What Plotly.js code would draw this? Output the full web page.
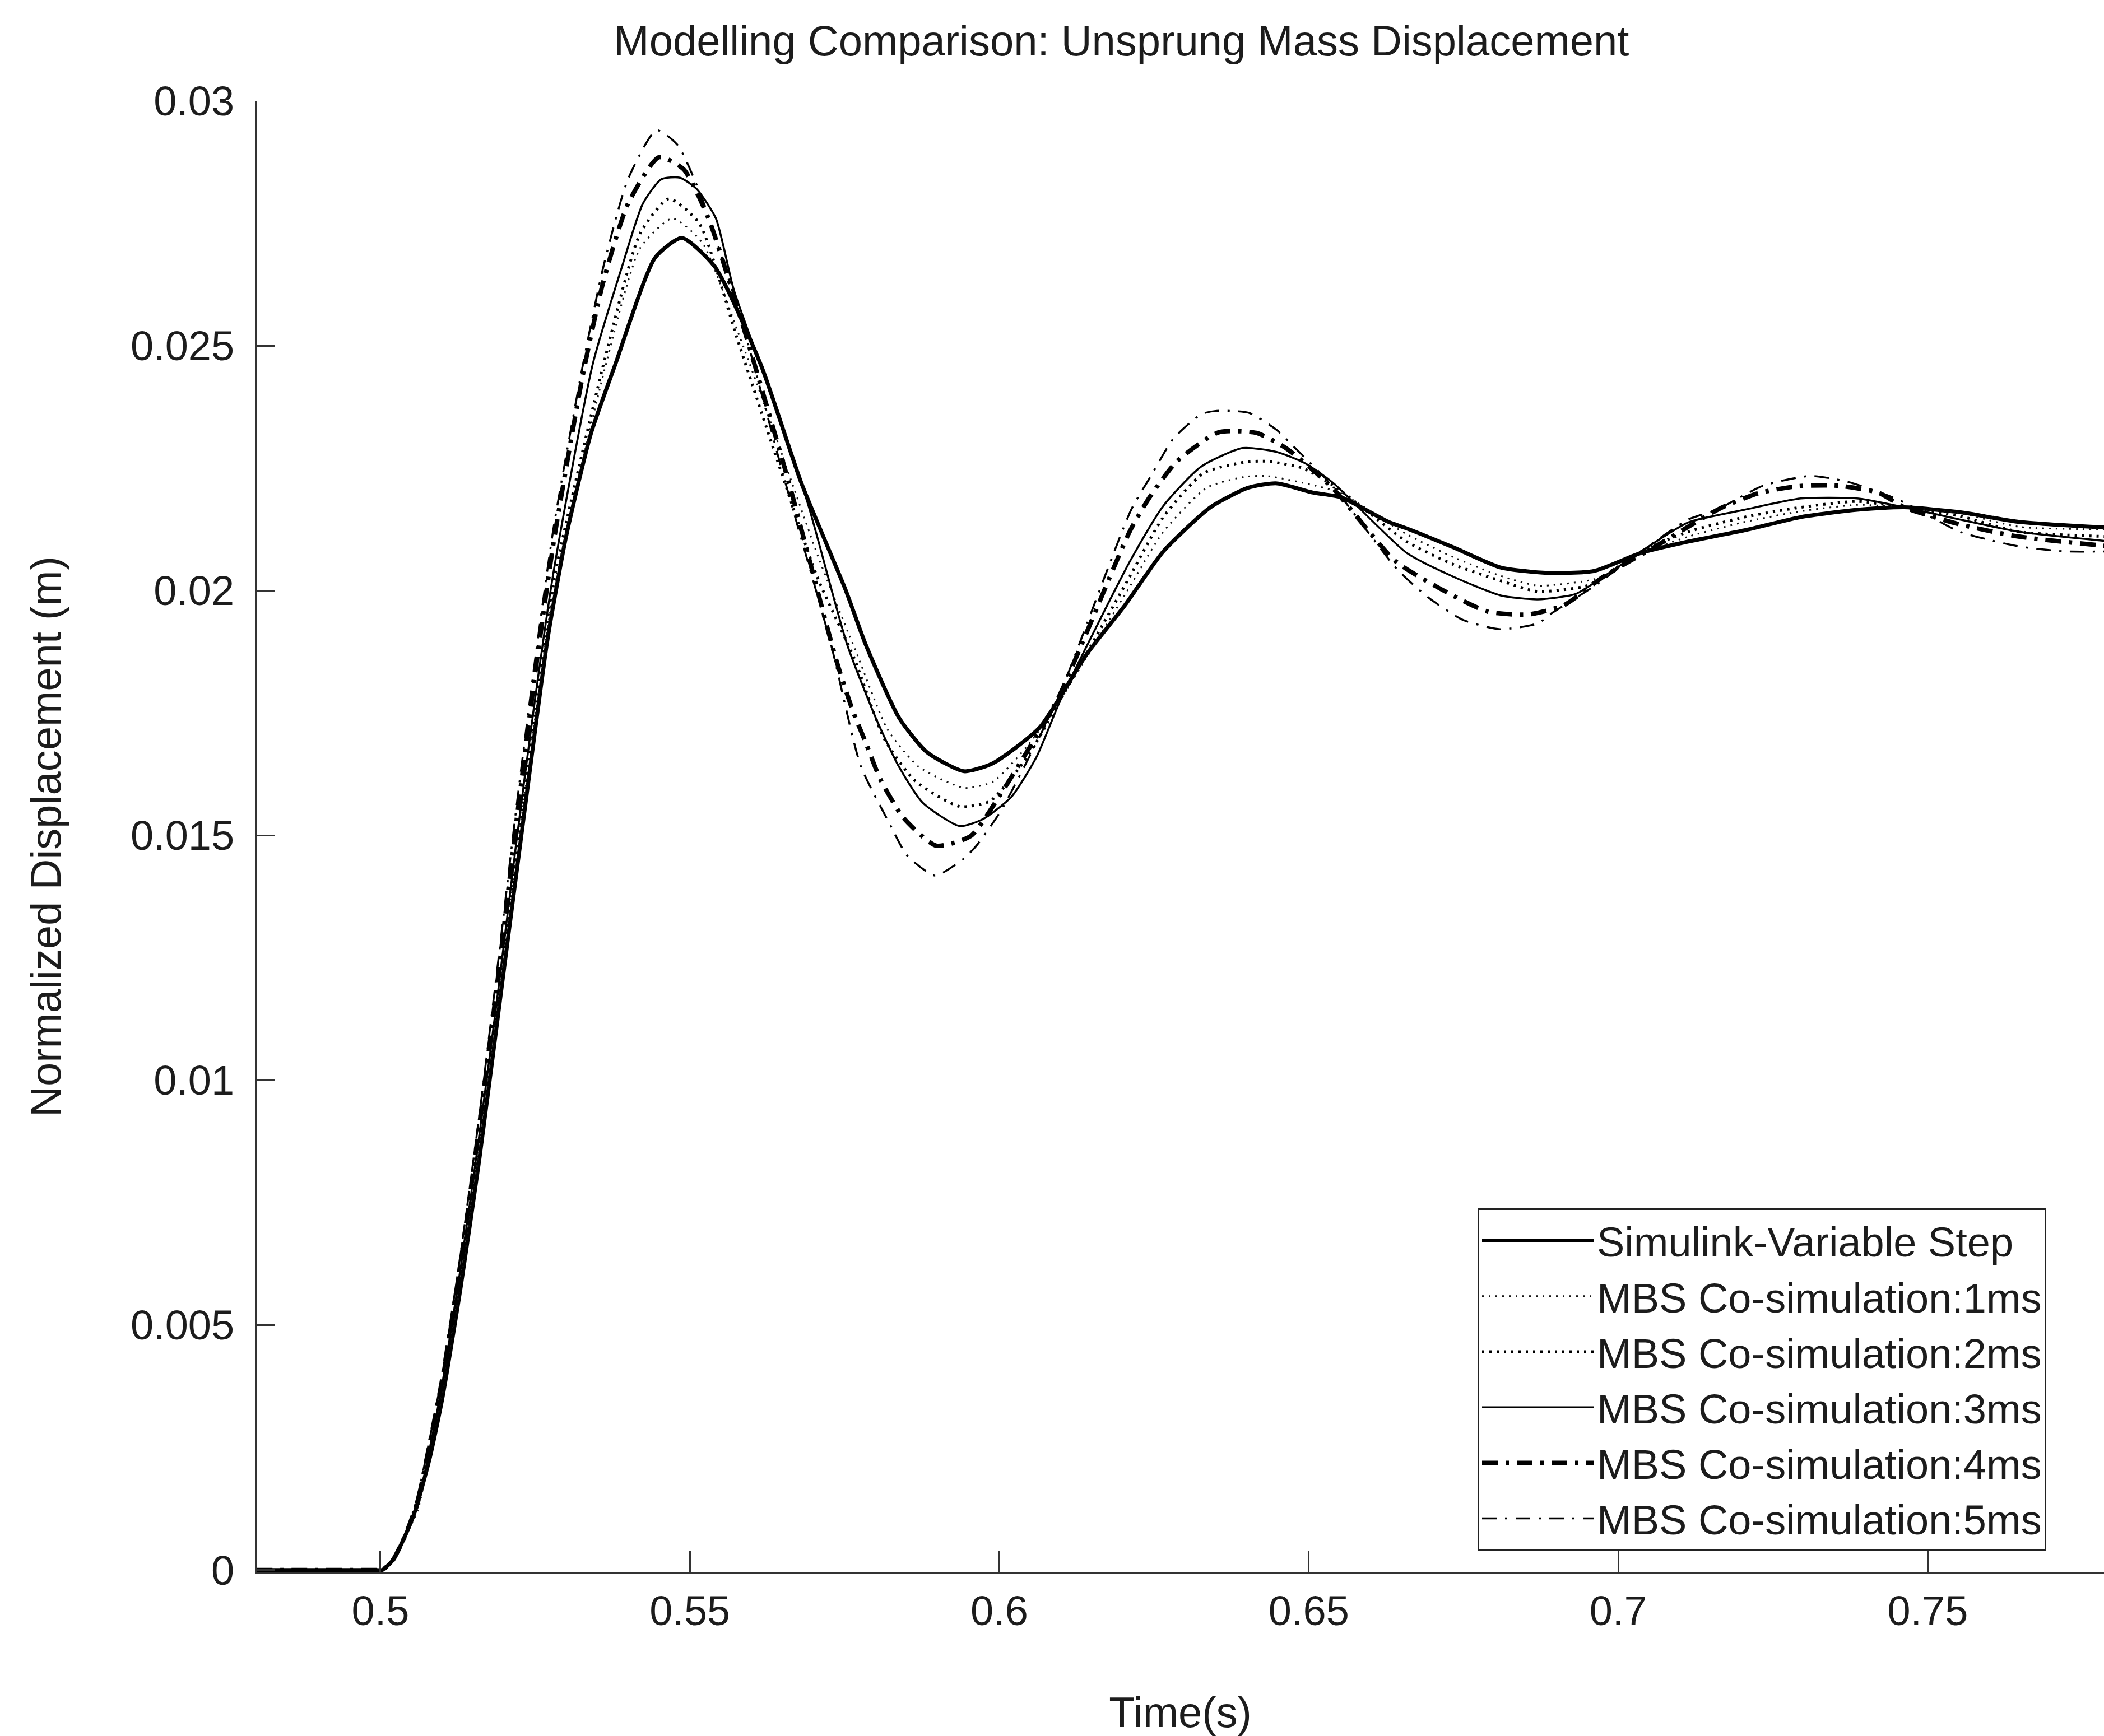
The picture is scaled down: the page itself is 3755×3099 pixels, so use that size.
<!DOCTYPE html>
<html>
<head>
<meta charset="utf-8">
<script src="https://cdn.plot.ly/plotly-3.0.1.min.js"></script>
<style>
  html, body { margin: 0; padding: 0; background: #ffffff; }
  #chart { width: 3755px; height: 3099px; }
</style>
</head>
<body>
<div id="chart"></div>
<script>
// ---------- Data ----------
const seriesNames = [
  "Simulink-Variable Step",
  "MBS Co-simulation:1ms",
  "MBS Co-simulation:2ms",
  "MBS Co-simulation:3ms",
  "MBS Co-simulation:4ms",
  "MBS Co-simulation:5ms"
];

const tSim = [0.480, 0.490, 0.499, 0.5003, 0.502, 0.504, 0.5056, 0.508, 0.510, 0.513, 0.516, 0.520, 0.5237, 0.527, 0.530, 0.534, 0.5379, 0.5444, 0.5487, 0.5541, 0.5615, 0.5680, 0.5752, 0.5784, 0.5838, 0.5883, 0.5943, 0.5989, 0.6065, 0.6141, 0.6203, 0.6265, 0.6341, 0.6402, 0.6447, 0.6507, 0.6553, 0.6629, 0.6658, 0.6734, 0.6810, 0.6885, 0.6961, 0.7037, 0.7113, 0.7204, 0.7295, 0.7386, 0.7462, 0.7552, 0.7648, 0.7797];
const ySim = [0, 0, 0, 0, 0.0002, 0.0007, 0.0012, 0.0023, 0.0035, 0.0058, 0.0084, 0.0123, 0.0159, 0.0190, 0.0211, 0.0232, 0.0246, 0.0268, 0.0272, 0.0266, 0.0246, 0.0222, 0.0200, 0.0189, 0.0174, 0.0167, 0.01631, 0.01647, 0.0172, 0.0187, 0.0197, 0.0208, 0.0217, 0.0221, 0.02219, 0.0220, 0.0219, 0.0214, 0.02127, 0.02088, 0.02047, 0.02036, 0.0204, 0.02077, 0.0210, 0.02123, 0.0215, 0.02165, 0.0217, 0.0216, 0.0214, 0.02128];

const t1ms = [0.480, 0.490, 0.499, 0.5003, 0.502, 0.504, 0.506, 0.508, 0.510, 0.513, 0.516, 0.519, 0.522, 0.525, 0.528, 0.5364, 0.5420, 0.5472, 0.5520, 0.5580, 0.5640, 0.5710, 0.5770, 0.5820, 0.5870, 0.5943, 0.5990, 0.6050, 0.6100, 0.6207, 0.6265, 0.6335, 0.6395, 0.6432, 0.6490, 0.6550, 0.6658, 0.6734, 0.6810, 0.6870, 0.6950, 0.6978, 0.7037, 0.7113, 0.7204, 0.7295, 0.7386, 0.7462, 0.7552, 0.7648, 0.7797];
const y1ms = [0, 0, 0, 0, 0.0002, 0.0007, 0.0012, 0.0024, 0.0036, 0.0059, 0.0086, 0.0115, 0.0146, 0.0174, 0.0200, 0.0246, 0.0270, 0.0276, 0.0271, 0.0252, 0.0231, 0.0206, 0.0187, 0.01715, 0.0164, 0.01597, 0.0161, 0.0169, 0.0178, 0.0200, 0.0212, 0.0221, 0.02232, 0.02234, 0.0222, 0.0220, 0.02115, 0.02068, 0.0203, 0.0201, 0.0202, 0.0203, 0.02075, 0.0211, 0.0214, 0.02162, 0.02175, 0.0217, 0.02158, 0.0213, 0.02125];

const t2ms = [0.480, 0.490, 0.499, 0.5003, 0.502, 0.504, 0.506, 0.508, 0.510, 0.513, 0.516, 0.519, 0.522, 0.525, 0.528, 0.5364, 0.5420, 0.5466, 0.5515, 0.5575, 0.5635, 0.5705, 0.5766, 0.5815, 0.5865, 0.5936, 0.5985, 0.6045, 0.6100, 0.6207, 0.6265, 0.6330, 0.6395, 0.6432, 0.6490, 0.6545, 0.6658, 0.6734, 0.6810, 0.6870, 0.6950, 0.6978, 0.7037, 0.7113, 0.7204, 0.7295, 0.7386, 0.7462, 0.7552, 0.7648, 0.7797];
const y2ms = [0, 0, 0, 0, 0.0002, 0.0007, 0.0013, 0.0024, 0.0037, 0.0060, 0.0087, 0.0116, 0.0147, 0.0176, 0.0202, 0.0248, 0.0273, 0.0280, 0.0275, 0.0252, 0.0229, 0.0203, 0.0186, 0.01695, 0.0161, 0.01559, 0.0157, 0.0166, 0.0178, 0.0202, 0.0215, 0.0224, 0.02262, 0.02264, 0.0225, 0.0221, 0.0210, 0.02053, 0.0202, 0.01998, 0.0201, 0.0203, 0.0208, 0.0212, 0.0215, 0.0217, 0.02182, 0.0217, 0.02152, 0.0212, 0.0211];

const t3ms = [0.480, 0.490, 0.499, 0.5003, 0.502, 0.504, 0.506, 0.508, 0.510, 0.513, 0.516, 0.519, 0.522, 0.525, 0.528, 0.5343, 0.5390, 0.5424, 0.5454, 0.5484, 0.5511, 0.5542, 0.5571, 0.5620, 0.5690, 0.5754, 0.5801, 0.5837, 0.5876, 0.5936, 0.5973, 0.6019, 0.6060, 0.6100, 0.6212, 0.6265, 0.6326, 0.6393, 0.6448, 0.6494, 0.6540, 0.6658, 0.6734, 0.6810, 0.6870, 0.6931, 0.6978, 0.7037, 0.7113, 0.7204, 0.7295, 0.7386, 0.7462, 0.7552, 0.7648, 0.7797];
const y3ms = [0, 0, 0, 0, 0.0002, 0.0007, 0.0013, 0.0025, 0.0038, 0.0062, 0.0089, 0.0118, 0.0149, 0.0178, 0.0204, 0.02462, 0.0266, 0.0279, 0.0284, 0.02843, 0.0282, 0.0276, 0.02614, 0.0244, 0.0218, 0.0189, 0.01738, 0.01642, 0.01567, 0.01519, 0.01533, 0.01578, 0.0166, 0.0178, 0.02062, 0.02173, 0.02253, 0.02291, 0.02283, 0.0226, 0.02219, 0.02077, 0.02028, 0.0199, 0.01982, 0.01993, 0.0203, 0.0208, 0.02139, 0.02165, 0.02188, 0.02188, 0.0217, 0.02145, 0.0212, 0.0210];

const t4ms = [0.480, 0.490, 0.499, 0.5003, 0.502, 0.504, 0.506, 0.508, 0.510, 0.513, 0.516, 0.519, 0.522, 0.525, 0.528, 0.5327, 0.536, 0.540, 0.5450, 0.549, 0.553, 0.5586, 0.5660, 0.5736, 0.5763, 0.5783, 0.5808, 0.5845, 0.5898, 0.5954, 0.6000, 0.6049, 0.6095, 0.6210, 0.6243, 0.6287, 0.6354, 0.6415, 0.6463, 0.6538, 0.6640, 0.6728, 0.6789, 0.6853, 0.6912, 0.6978, 0.7060, 0.7165, 0.7227, 0.7289, 0.7356, 0.7420, 0.7462, 0.7552, 0.7648, 0.7797];
const y4ms = [0, 0, 0, 0, 0.0002, 0.0007, 0.0014, 0.0026, 0.0039, 0.0063, 0.0091, 0.0121, 0.0153, 0.0183, 0.0210, 0.0244, 0.0263, 0.0279, 0.02885, 0.0286, 0.0276, 0.0254, 0.0222, 0.0186, 0.01755, 0.01693, 0.01614, 0.01536, 0.01479, 0.01499, 0.0158, 0.0168, 0.0178, 0.02119, 0.02191, 0.02264, 0.02323, 0.02322, 0.02291, 0.0221, 0.0206, 0.01993, 0.01957, 0.01951, 0.0197, 0.0203, 0.0209, 0.02168, 0.02199, 0.02213, 0.02214, 0.0220, 0.0217, 0.02135, 0.0211, 0.0209];

const t5ms = [0.480, 0.490, 0.499, 0.5003, 0.502, 0.504, 0.506, 0.508, 0.510, 0.513, 0.516, 0.519, 0.522, 0.525, 0.528, 0.5327, 0.536, 0.540, 0.5446, 0.548, 0.552, 0.5586, 0.5650, 0.5728, 0.5776, 0.5821, 0.5851, 0.5896, 0.5942, 0.5963, 0.6003, 0.6049, 0.6095, 0.6213, 0.6245, 0.6281, 0.6326, 0.6351, 0.6403, 0.6448, 0.6478, 0.6538, 0.6643, 0.6694, 0.6749, 0.6809, 0.6870, 0.6894, 0.6960, 0.7037, 0.7113, 0.7159, 0.7234, 0.7311, 0.7371, 0.7432, 0.7462, 0.7552, 0.7648, 0.7720, 0.7797];
const y5ms = [0, 0, 0, 0, 0.0002, 0.0007, 0.0015, 0.0027, 0.0040, 0.0065, 0.0093, 0.0124, 0.0156, 0.0186, 0.0213, 0.0246, 0.0266, 0.0284, 0.0294, 0.0291, 0.0280, 0.0254, 0.0224, 0.0189, 0.01642, 0.01528, 0.01459, 0.01418, 0.01452, 0.01479, 0.01551, 0.01662, 0.0178, 0.02165, 0.02234, 0.0231, 0.0236, 0.02367, 0.02363, 0.02328, 0.02291, 0.02214, 0.02043, 0.01985, 0.0194, 0.01921, 0.01933, 0.01955, 0.02008, 0.0208, 0.02145, 0.02165, 0.02214, 0.02234, 0.02222, 0.02196, 0.0218, 0.0212, 0.0209, 0.0208, 0.0208];

const xTickVals = [0.5, 0.55, 0.6, 0.65, 0.7, 0.75];
const yTickVals = [0, 0.005, 0.01, 0.015, 0.02, 0.025, 0.03];

const titleText = "Modelling Comparison: Unsprung Mass Displacement";
const xTitle = "Time(s)";
const yTitle = "Normalized Displacement (m)";

// ---------- Styling ----------
const FONT = "Liberation Sans, Arial, Helvetica, sans-serif";
const INK = "#1c1c1c";

const lineStyles = [
  {color: "#000000", width: 7,   dash: "solid"},
  {color: "#111111", width: 3,   dash: "3px,9px"},
  {color: "#000000", width: 5,   dash: "4px,9px"},
  {color: "#000000", width: 3.5, dash: "solid"},
  {color: "#000000", width: 8,   dash: "28px,14px,6px,14px"},
  {color: "#000000", width: 3.5, dash: "26px,15px,4px,15px"}
];

const xs = [tSim, t1ms, t2ms, t3ms, t4ms, t5ms];
const ys = [ySim, y1ms, y2ms, y3ms, y4ms, y5ms];

const traces = seriesNames.map((name, i) => ({
  type: "scatter",
  mode: "lines",
  name: name,
  x: xs[i],
  y: ys[i],
  line: Object.assign({shape: "spline", smoothing: 0.6}, lineStyles[i]),
  hoverinfo: "skip"
}));

const W = 3755, H = 3099;
const mL = 458, mR = 0, mT = 180, mB = 292;
const PX_PER_UNIT = 11046;

const layout = {
  width: W,
  height: H,
  paper_bgcolor: "#ffffff",
  plot_bgcolor: "#ffffff",
  margin: {l: mL, r: mR, t: mT, b: mB, pad: 0},
  showlegend: true,
  font: {family: FONT, color: INK, size: 72},
  title: {
    text: titleText,
    font: {family: FONT, size: 76, color: INK},
    xref: "container", yref: "container",
    x: 0.533, xanchor: "center",
    y: 1 - 72 / H, yanchor: "middle"
  },
  xaxis: {
    range: [0.48, 0.48 + (W - mL - mR) / PX_PER_UNIT],
    tickvals: xTickVals,
    ticks: "inside",
    ticklen: 38,
    tickwidth: 3,
    tickcolor: "#333333",
    showline: true,
    linecolor: "#333333",
    linewidth: 3,
    mirror: false,
    showgrid: false,
    zeroline: false,
    tickfont: {family: FONT, size: 74, color: INK},
    ticklabelstandoff: 2,
    title: {text: xTitle, font: {family: FONT, size: 76, color: INK}, standoff: 124}
  },
  yaxis: {
    range: [-0.00005, 0.03],
    tickvals: yTickVals,
    ticktext: yTickVals.map(v => String(v)),
    ticks: "inside",
    ticklen: 32,
    tickwidth: 3,
    tickcolor: "#333333",
    showline: true,
    linecolor: "#333333",
    linewidth: 3,
    mirror: false,
    showgrid: false,
    zeroline: false,
    tickfont: {family: FONT, size: 74, color: INK},
    ticklabelstandoff: 22,
    title: {text: yTitle, font: {family: FONT, size: 76, color: INK}, standoff: 100}
  },
  legend: {
    x: (2637 - mL) / (W - mL - mR),
    xanchor: "left",
    y: (2807 - 2769) / (H - mT - mB),
    yanchor: "bottom",
    bgcolor: "#ffffff",
    bordercolor: "#222222",
    borderwidth: 3,
    font: {family: FONT, size: 74, color: INK},
    itemwidth: 200,
    tracegroupgap: 0
  },
  hovermode: false
};

Plotly.newPlot("chart", traces, layout, {displayModeBar: false, staticPlot: true});
</script>
</body>
</html>
